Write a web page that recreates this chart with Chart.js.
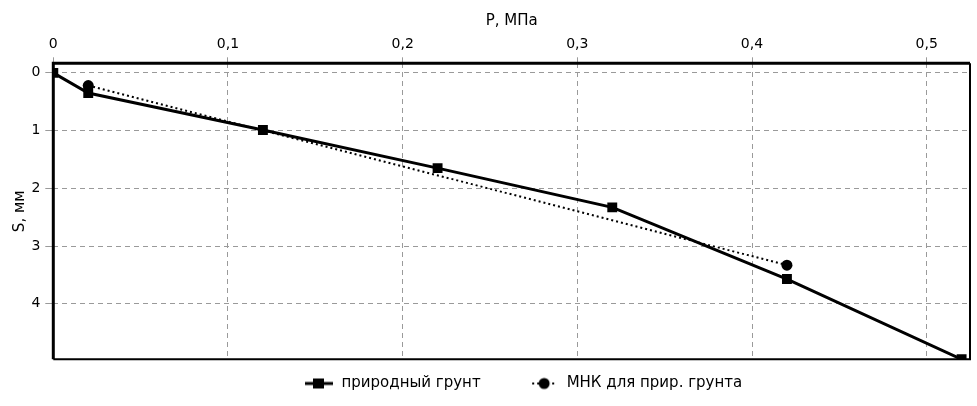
<!DOCTYPE html>
<html><head><meta charset="utf-8">
<script src="https://cdn.jsdelivr.net/npm/chart.js@4/dist/chart.umd.min.js"></script>
<style>html,body{margin:0;padding:0;background:#fff}#wrap{width:977px;height:406px}</style>
</head><body><div id="wrap"><canvas id="c" width="977" height="406"></canvas></div>
<script>
const pressure = [0, 0.02, 0.12, 0.22, 0.32, 0.42, 0.52];
const settlement = [0, 0.35, 0.99, 1.65, 2.33, 3.57, 4.96];
const fitPressure = [0.02, 0.42];
const fitSettlement = [0.22, 3.33];
const xTickValues = [0, 0.1, 0.2, 0.3, 0.4, 0.5];
const yTickValues = [0, 1, 2, 3, 4];
const seriesNames = ['природный грунт', 'МНК для прир. грунта'];
const xTitle = 'P, МПа';
const yTitle = 'S, мм';

Chart.defaults.font.family = "'DejaVu Sans', Verdana, sans-serif";
Chart.defaults.font.size = 14;
Chart.defaults.color = '#000';

function legendIcon(kind) {
  const c = document.createElement('canvas');
  c.width = 30; c.height = 14;
  const g = c.getContext('2d');
  g.strokeStyle = '#000'; g.fillStyle = '#000';
  if (kind === 'rect') {
    g.lineWidth = 3;
    g.beginPath(); g.moveTo(1, 7); g.lineTo(29, 7); g.stroke();
    g.fillRect(9, 2, 11, 10);
  } else {
    g.lineWidth = 2;
    g.setLineDash([2, 3]);
    g.beginPath(); g.moveTo(3, 7); g.lineTo(27, 7); g.stroke();
    g.setLineDash([]);
    g.beginPath(); g.arc(15, 7, 5.5, 0, Math.PI * 2); g.fill();
  }
  return c;
}
const icons = [legendIcon('rect'), legendIcon('circle')];

const framePlugin = {
  id: 'frame',
  beforeDatasetsDraw(chart) {
    const a = chart.chartArea, g = chart.ctx;
    g.save();
    g.strokeStyle = '#000';
    g.lineWidth = 2;
    g.beginPath();
    g.moveTo(a.right, a.top); g.lineTo(a.right, a.bottom); g.lineTo(a.left, a.bottom);
    g.stroke();
    g.lineWidth = 3;
    g.beginPath();
    g.moveTo(a.left, a.bottom); g.lineTo(a.left, a.top); g.lineTo(a.right, a.top);
    g.stroke();
    g.restore();
  }
};

const legendTextTop = 376;
const legendStartX = 304;
const legendPlace = {
  id: 'legendPlace',
  afterLayout(chart) {
    const lg = chart.legend;
    const p = lg.options.labels.padding;
    lg.top = legendTextTop - p;
    lg.left = legendStartX - p;
  }
};

const fmt = v => v === 0 ? '0' : String(v).replace('.', ',');

new Chart(document.getElementById('c'), {
  type: 'line',
  plugins: [framePlugin, legendPlace],
  data: {
    datasets: [
      {
        label: seriesNames[0],
        data: pressure.map((p, i) => ({x: p, y: settlement[i]})),
        borderColor: '#000', backgroundColor: '#000',
        borderWidth: 3, pointStyle: 'rect', pointRadius: 7,
        pointBackgroundColor: '#000', pointBorderWidth: 0
      },
      {
        label: seriesNames[1],
        data: fitPressure.map((p, i) => ({x: p, y: fitSettlement[i]})),
        borderColor: '#000', backgroundColor: '#000',
        borderWidth: 2, borderDash: [2, 3], pointStyle: 'circle', pointRadius: 5.5,
        pointBackgroundColor: '#000', pointBorderWidth: 0
      }
    ]
  },
  options: {
    responsive: false,
    animation: false,
    devicePixelRatio: 1,
    layout: {padding: {left: 0, right: 5.3, top: 0, bottom: 0}},
    scales: {
      x: {
        type: 'linear', position: 'top', min: 0, max: 0.5248,
        afterBuildTicks: s => { s.ticks = xTickValues.map(v => ({value: v})); },
        afterFit: s => { s.height = 63.3; },
        ticks: {callback: v => fmt(v), padding: 5, maxRotation: 0},
        grid: {color: '#9a9a9a', lineWidth: 1, tickLength: 6, tickColor: '#9a9a9a'},
        border: {display: false, dash: [5, 4]},
        title: {display: true, text: xTitle, font: {size: 15}, padding: {top: 12, bottom: 0}}
      },
      y: {
        type: 'linear', reverse: true, min: -0.165, max: 4.96,
        afterBuildTicks: s => { s.ticks = yTickValues.map(v => ({value: v})); },
        afterFit: s => { s.width = 53.3; },
        ticks: {callback: v => fmt(v), padding: 5},
        grid: {color: '#9a9a9a', lineWidth: 1, tickLength: 8, tickColor: '#9a9a9a'},
        border: {display: false, dash: [5, 4]},
        title: {display: true, text: yTitle, font: {size: 15}, padding: {top: 11, bottom: 0}}
      }
    },
    plugins: {
      tooltip: {enabled: false},
      legend: {
        position: 'bottom',
        align: 'start',
        maxHeight: 46.7,
        labels: {
          font: {size: 15},
          usePointStyle: true, pointStyleWidth: 30, padding: 48.5,
          generateLabels: chart => Chart.defaults.plugins.legend.labels.generateLabels(chart)
            .map((l, i) => Object.assign(l, {pointStyle: icons[i], lineWidth: 0}))
        }
      }
    }
  }
});
</script></body></html>
